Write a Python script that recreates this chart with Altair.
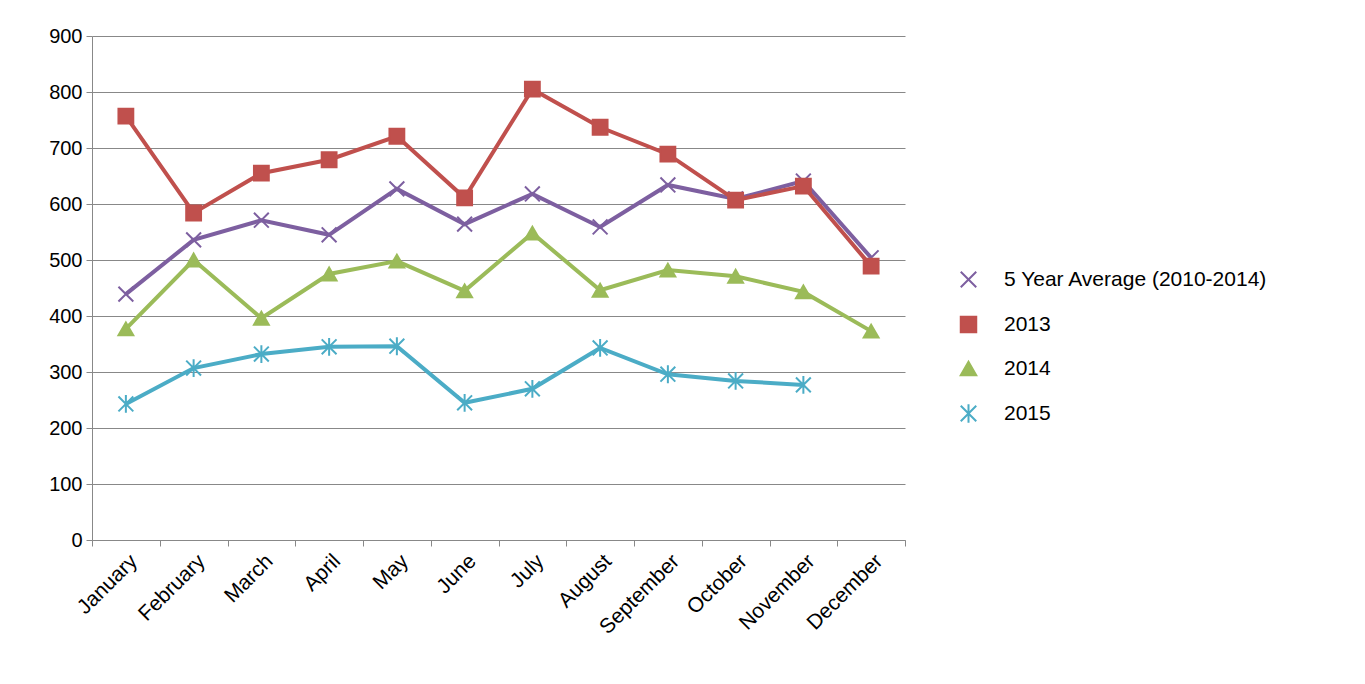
import altair as alt
import pandas as pd

months = ["January", "February", "March", "April", "May", "June", "July",
          "August", "September", "October", "November", "December"]
avg_5yr = [439, 536, 571, 545, 627, 564, 618, 559, 634, 609, 641, 504]
y2013 = [757, 584, 655, 679, 721, 611, 805, 737, 689, 607, 632, 489]
y2014 = [377, 500, 396, 475, 498, 445, 548, 446, 482, 471, 443, 373]
y2015 = [243, 307, 332, 345, 346, 245, 270, 343, 296, 284, 277]

series = ["5 Year Average (2010-2014)", "2013", "2014", "2015"]
colors = ["#7D5FA0", "#C0504D", "#9BBB59", "#4BACC6"]
shapes = [
    "M-1,-1L1,1M1,-1L-1,1",
    "square",
    "triangle-up",
    "M-1,-1L1,1M1,-1L-1,1M0,-1.2L0,1.2",
]

rows = []
for name, vals in zip(series, [avg_5yr, y2013, y2014, y2015]):
    for m, v in zip(months, vals):
        rows.append({"month": m, "value": v, "series": name})
df = pd.DataFrame(rows)

font = "Liberation Sans"
x = alt.X("month:N", sort=months, title=None, bandPosition=0.5,
          scale=alt.Scale(type="band", paddingInner=0, paddingOuter=0),
          axis=alt.Axis(labelAngle=-45, labelFontSize=21, labelColor="black",
                        labelFont=font, tickBand="extent", domainColor="#888",
                        tickColor="#888", tickSize=6, grid=False, labelPadding=4))
y = alt.Y("value:Q", title=None,
          scale=alt.Scale(domain=[0, 900], nice=False),
          axis=alt.Axis(values=list(range(0, 901, 100)), labelFontSize=20,
                        labelColor="black", labelFont=font, gridColor="#888",
                        domainColor="#888", tickColor="#888", tickSize=6,
                        labelPadding=4))
col_scale = alt.Scale(domain=series, range=colors)
legend = alt.Legend(labelFontSize=21, labelFont=font, labelColor="black",
                    labelLimit=0, labelOffset=25, symbolSize=240,
                    symbolStrokeWidth=2, rowPadding=20,
                    orient="none", legendX=866, legendY=233)

base = alt.Chart(df).encode(x=x, y=y)
lines = base.mark_line(strokeWidth=4).encode(
    color=alt.Color("series:N", scale=col_scale, title=None, sort=series,
                    legend=legend))
points = base.mark_point(filled=True, size=220, strokeWidth=2, opacity=1).encode(
    color=alt.Color("series:N", scale=col_scale, title=None, sort=series,
                    legend=legend),
    stroke=alt.Stroke("series:N", scale=col_scale, title=None, sort=series,
                      legend=legend),
    shape=alt.Shape("series:N", scale=alt.Scale(domain=series, range=shapes),
                    title=None, sort=series, legend=legend),
)

chart = (lines + points).properties(
    width=813, height=504,
    autosize=alt.AutoSizeParams(type="none"),
    padding={"left": 84, "top": 28, "right": 440, "bottom": 140},
    background="white",
).configure_view(stroke=None)

chart.save("out.html", embed_options={"renderer": "svg", "actions": False})
